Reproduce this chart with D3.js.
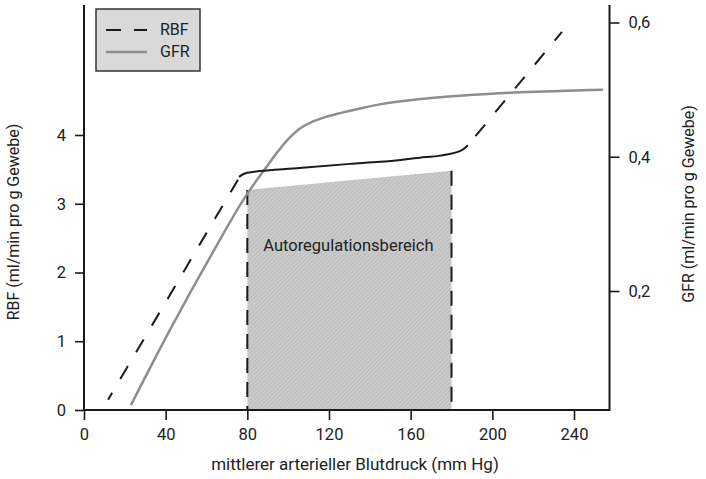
<!DOCTYPE html>
<html>
<head>
<meta charset="utf-8">
<title>Autoregulation RBF / GFR</title>
<style>
  body { margin: 0; background: #fff; }
  svg text { font-family: Roboto, "Open Sans", sans-serif; fill: #222; }
</style>
</head>
<body>
<script src="https://cdn.jsdelivr.net/npm/d3@7/dist/d3.min.js"></script>
<script>
// values: [mittlerer Blutdruck (mm Hg), Wert]
var rbfLow = [[11.8, 0.15], [75.4, 3.35]];
var rbfPlateau = [[75.9, 3.39], [79.8, 3.45], [105.8, 3.52], [130.3, 3.58], [145, 3.61],
                  [164.5, 3.67], [174.3, 3.70], [185.1, 3.78], [188.0, 3.85]];
var rbfHigh = [[188.0, 3.85], [234.1, 5.50]];
var gfr = [[23.0, 0.030], [42.1, 0.142], [61.7, 0.250], [80.0, 0.345], [88.7, 0.382],
           [95.0, 0.408], [99.9, 0.426], [104.8, 0.440], [111.7, 0.452], [118.0, 0.459],
           [125.4, 0.465], [135.2, 0.472], [145.0, 0.478], [164.6, 0.486], [189.1, 0.492],
           [213.6, 0.496], [254.2, 0.500]];
var autoregRange = [80, 180];      // mm Hg
var autoregTop = [3.20, 3.48];     // RBF at the top of the shaded area
var xTicks = [0, 40, 80, 120, 160, 200, 240];
var leftTicks = [0, 1, 2, 3, 4];
var rightTicks = [0.2, 0.4, 0.6];

var width = 706, height = 479;
var plotLeft = 84, plotRight = 609.5, plotTop = 5, plotBottom = 410;

var x = d3.scaleLinear().domain([0, 240]).range([84, 574]);
var yL = d3.scaleLinear().domain([0, 4]).range([plotBottom, 135]);
var yR = d3.scaleLinear().domain([0.2, 0.6]).range([291, 22.5]);

var de = d3.formatLocale({decimal: ",", thousands: ".", grouping: [3], currency: ["", " €"]});

var svg = d3.select("body").append("svg")
    .attr("width", width)
    .attr("height", height);

// hatch for the shaded area
var pat = svg.append("defs").append("pattern")
    .attr("id", "hatch")
    .attr("patternUnits", "userSpaceOnUse")
    .attr("width", 3).attr("height", 3)
    .attr("patternTransform", "rotate(45)");
pat.append("rect").attr("width", 3).attr("height", 3).attr("fill", "#cbcbcb");
pat.append("line").attr("x1", 0).attr("y1", 0).attr("x2", 0).attr("y2", 3)
    .attr("stroke", "#ababab").attr("stroke-width", 1);

// Autoregulationsbereich
var area = [[autoregRange[0], 0], [autoregRange[0], autoregTop[0]],
            [autoregRange[1], autoregTop[1]], [autoregRange[1], 0]];
svg.append("path")
    .attr("d", d3.line().x(function(d) { return x(d[0]); }).y(function(d) { return yL(d[1]); })(area) + "Z")
    .attr("fill", "url(#hatch)");

svg.selectAll(".bound")
    .data([0, 1])
    .enter().append("line")
    .attr("x1", function(i) { return x(autoregRange[i]); })
    .attr("x2", function(i) { return x(autoregRange[i]); })
    .attr("y1", function(i) { return yL(autoregTop[i]); })
    .attr("y2", plotBottom)
    .attr("stroke", "#1a1a1a")
    .attr("stroke-width", 2)
    .attr("stroke-dasharray", "15,9");

svg.append("text")
    .attr("x", x(129.5))
    .attr("y", 247)
    .attr("text-anchor", "middle")
    .attr("dominant-baseline", "middle")
    .style("font-size", "16.5px")
    .text("Autoregulationsbereich");

// curves
var lineL = d3.line().x(function(d) { return x(d[0]); }).y(function(d) { return yL(d[1]); });
var lineR = d3.line().x(function(d) { return x(d[0]); }).y(function(d) { return yR(d[1]); })
    .curve(d3.curveMonotoneX);

svg.append("path").attr("d", lineR(gfr))
    .attr("fill", "none").attr("stroke", "#8e8e8e").attr("stroke-width", 2.5);

svg.append("path").attr("d", lineL.curve(d3.curveMonotoneX)(rbfPlateau))
    .attr("fill", "none").attr("stroke", "#1a1a1a").attr("stroke-width", 2);

[rbfLow, rbfHigh].forEach(function(seg) {
    svg.append("path").attr("d", lineL.curve(d3.curveLinear)(seg))
        .attr("fill", "none").attr("stroke", "#1a1a1a").attr("stroke-width", 2)
        .attr("stroke-dasharray", "15,16")
        .attr("stroke-dashoffset", seg === rbfLow ? 7 : -12);
});

// axes
var gx = svg.append("g")
    .attr("transform", "translate(0," + plotBottom + ")")
    .call(d3.axisBottom(x).tickValues(xTicks).tickSize(10).tickPadding(8));
var gl = svg.append("g")
    .attr("transform", "translate(" + plotLeft + ",0)")
    .call(d3.axisLeft(yL).tickValues(leftTicks).tickSize(9).tickPadding(9)
        .tickFormat(d3.format("d")));
var gr = svg.append("g")
    .attr("transform", "translate(" + plotRight + ",0)")
    .call(d3.axisRight(yR).tickValues(rightTicks).tickSize(10).tickPadding(9)
        .tickFormat(de.format(".1f")));

[gx, gl, gr].forEach(function(g) {
    g.select(".domain").remove();
    g.selectAll("line").attr("stroke", "#1a1a1a").attr("stroke-width", 1.6);
    g.selectAll("text").attr("fill", "#222").style("font-size", "16.5px")
        .style("font-family", "Roboto, 'Open Sans', sans-serif");
});

svg.append("path")
    .attr("d", "M" + plotLeft + "," + plotTop + "V" + plotBottom + "H" + plotRight + "V" + plotTop)
    .attr("fill", "none")
    .attr("stroke", "#1a1a1a")
    .attr("stroke-width", 2);

// axis titles
svg.append("text")
    .attr("x", 355).attr("y", 466)
    .attr("text-anchor", "middle").attr("dominant-baseline", "middle")
    .style("font-size", "17px")
    .text("mittlerer arterieller Blutdruck (mm Hg)");

svg.append("text")
    .attr("transform", "translate(15,222) rotate(-90)")
    .attr("text-anchor", "middle").attr("dominant-baseline", "middle")
    .style("font-size", "16px")
    .text("RBF (ml/min pro g Gewebe)");

svg.append("text")
    .attr("transform", "translate(690,204) rotate(-90)")
    .attr("text-anchor", "middle").attr("dominant-baseline", "middle")
    .style("font-size", "16px")
    .text("GFR (ml/min pro g Gewebe)");

// legend
var lg = svg.append("g").attr("transform", "translate(96,9)");
lg.append("rect").attr("width", 104).attr("height", 62)
    .attr("fill", "#d9d9d9").attr("stroke", "#333").attr("stroke-width", 1.5);
lg.append("line").attr("x1", 10).attr("x2", 51).attr("y1", 21).attr("y2", 21)
    .attr("stroke", "#1a1a1a").attr("stroke-width", 2).attr("stroke-dasharray", "15,13");
lg.append("line").attr("x1", 10).attr("x2", 51).attr("y1", 43).attr("y2", 43)
    .attr("stroke", "#8e8e8e").attr("stroke-width", 2.5);
lg.selectAll("text")
    .data(["RBF", "GFR"])
    .enter().append("text")
    .attr("x", 64)
    .attr("y", function(d, i) { return 22 + i * 22; })
    .attr("dominant-baseline", "middle")
    .style("font-size", "16px")
    .text(function(d) { return d; });
</script>
</body>
</html>
